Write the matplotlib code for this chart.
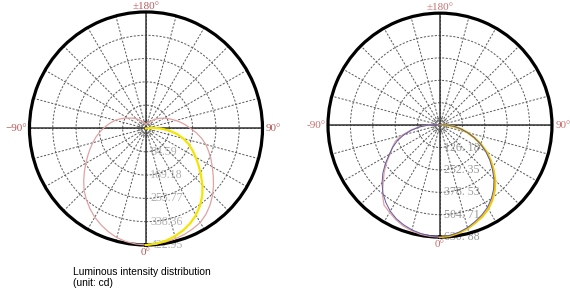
import numpy as np
import matplotlib
matplotlib.use("Agg")
import matplotlib.pyplot as plt

# ---------------- data ----------------
# Left chart (max 422.95 cd)
left_rings = [84.59, 169.18, 253.77, 338.36, 422.95]
left_ring_labels = ["84.59", "169.18", "253.77", "338.36", "422.95"]
left_pink_ang = list(range(-180, 181, 5))
left_pink_cd = [15, 16, 18, 20, 23, 26, 30, 36, 42, 50, 58, 66, 75, 88, 101, 115, 128, 141,
                155, 170, 185, 200, 216, 233, 252, 273, 295, 318, 337, 355, 372, 386, 399,
                410, 417, 421, 423,
                421, 418, 414, 409, 402, 394, 380, 362, 342, 320, 298, 278, 260, 242, 225,
                205, 184, 162, 145, 128, 112, 98, 86, 75, 65, 56, 47, 40, 33, 28, 24, 21,
                20, 18, 16, 15]
left_yellow_ang = list(range(0, 101, 5))
left_yellow_cd = [423, 420, 414, 405, 394, 380, 363, 342, 318, 290, 260, 233, 208, 186,
                  164, 140, 114, 84, 52, 25, 0]

# Right chart (max 630.88 cd)
right_rings = [126.18, 252.35, 378.53, 504.71, 630.88]
right_ring_labels = ["126. 18", "252. 35", "378. 53", "504. 71", "630. 88"]
right_pink_ang = list(range(0, -101, -5))
right_pink_cd = [631, 629, 625, 616, 605, 588, 568, 550, 505, 452, 410, 367, 325, 296,
                 268, 222, 170, 120, 70, 30, 0]
right_blue_ang = list(range(-100, 101, 5))
right_blue_cd = [0, 30, 70, 115, 162, 210, 255, 293, 330, 375, 420, 462, 500, 532, 560,
                 582, 598, 611, 620, 626, 628,
                 624, 613, 598, 578, 558, 535, 505, 470, 430, 385, 342, 298, 252, 205,
                 160, 118, 80, 45, 20, 0]
right_yellow_ang = list(range(0, 101, 5))
right_yellow_cd = [631, 627, 617, 603, 585, 567, 545, 515, 480, 440, 395, 350, 305, 255,
                   205, 160, 115, 75, 40, 15, 0]

angle_labels = ["±180°", "90°", "0°"]

fig = plt.figure(figsize=(5.70, 2.92), dpi=100)
fig.patch.set_facecolor("white")

serif = ["Liberation Serif", "DejaVu Serif"]


def make_polar(rect, rings, ring_labels, ring_color, lab_color, minus_label, top_y):
    ax = fig.add_axes(rect, projection="polar")
    ax.set_theta_zero_location("S")
    ax.set_theta_direction(1)
    rmax = rings[-1]
    ax.set_ylim(0, rmax)
    ax.set_thetagrids(np.arange(0, 360, 15), labels=[""] * 24)
    ax.set_rgrids([rmax * 0.06] + rings[:-1], labels=[""] * len(rings))
    ax.grid(True, color="#5a5a5a", linestyle=(0, (2.2, 1.6)), linewidth=0.7)
    ax.tick_params(length=0)
    ax.spines["polar"].set_linewidth(2.3)
    ax.spines["polar"].set_color("black")
    for a in (0, 90, 180, 270):
        ax.axvline(np.deg2rad(a), color="#333333", linewidth=1.1, zorder=2)
    for v, t in zip(rings, ring_labels):
        ax.annotate(t, xy=(0, v), xytext=(3.2, 0), textcoords="offset points",
                    ha="left", va="center", fontsize=8.6, color=ring_color,
                    family=serif, zorder=1, annotation_clip=False)
    kw = dict(transform=ax.transAxes, color=lab_color, fontsize=8.0, family=serif)
    ax.text(0.5, top_y, angle_labels[0], ha="center", va="baseline", **kw)
    ax.text(-0.012, 0.5, minus_label, ha="right", va="center", **kw)
    ax.text(1.015, 0.5, angle_labels[1], ha="left", va="center", **kw)
    ax.text(0.5, -0.012, angle_labels[2], ha="center", va="top", **kw)
    return ax


axL = make_polar([0.0517, 0.161, 0.4088, 0.798], left_rings, left_ring_labels,
                 "#b0b0b0", "#b85a5a", "−90°", 1.011)
axL.plot(np.deg2rad(left_pink_ang), left_pink_cd, color="#e2a2a2", lw=0.9,
         clip_on=False, zorder=3)
axL.plot(np.deg2rad(left_yellow_ang), left_yellow_cd, color="#f2e600", lw=1.6,
         clip_on=False, zorder=4)

axR = make_polar([0.5754, 0.188, 0.393, 0.767], right_rings, right_ring_labels,
                 "#9a9a9a", "#cc6e6e", "-90°", 1.016)
axR.plot(np.deg2rad(right_pink_ang), right_pink_cd, color="#e6a0a0", lw=0.9,
         clip_on=False, zorder=3)
axR.plot(np.deg2rad(right_yellow_ang), right_yellow_cd, color="#f5c800", lw=1.6,
         clip_on=False, zorder=4)
axR.plot(np.deg2rad(right_blue_ang), right_blue_cd, color="#5a5aa8", lw=0.7,
         clip_on=False, zorder=5)

fig.text(0.128, 0.067, "Luminous intensity distribution", ha="left", va="center",
         fontsize=7.4, family=["Liberation Sans", "DejaVu Sans"], color="black")
fig.text(0.128, 0.030, "(unit: cd)", ha="left", va="center",
         fontsize=7.4, family=["Liberation Sans", "DejaVu Sans"], color="black")

fig.savefig("out.png", dpi=100, facecolor="white")
